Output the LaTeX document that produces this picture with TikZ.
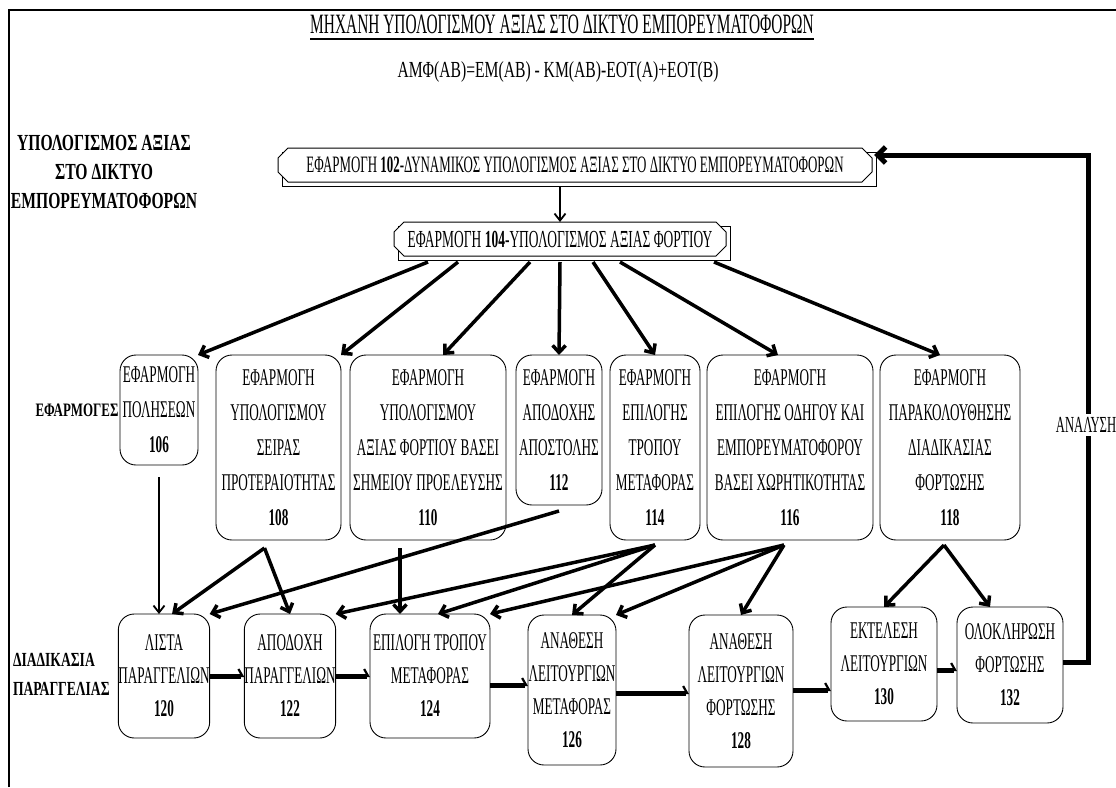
\documentclass[tikz,border=0pt]{standalone}
\usepackage{fontspec}
\setmainfont{Liberation Serif}[FakeStretch=0.55]
\newfontfamily\widefont{Liberation Serif}[FakeStretch=0.68]
\usetikzlibrary{arrows.meta,shapes.misc}
\begin{document}
\begin{tikzpicture}[x=1pt,y=-1pt,
  every node/.style={inner sep=0pt, outer sep=0pt},
  box/.style={draw, line width=0.9pt, rounded corners=16pt, align=center,
    font=\fontsize{24}{35}\selectfont},
  lowbox/.style={box, font=\fontsize{24}{33}\selectfont},
  topbox/.style={draw, line width=1pt, chamfered rectangle,
    chamfered rectangle xsep=5pt, chamfered rectangle ysep=5pt, fill=white},
  heading/.style={align=center},
  fan/.style={line width=3.5pt, -{Straight Barb[length=7pt,width=13pt]}},
  slim/.style={line width=1.8pt, -{Straight Barb[length=7pt,width=11pt]}},
  hk/.style={line width=5pt, -{Straight Barb[left,length=4pt,width=14pt,line width=2.2pt]}},
  loop/.style={line width=5pt, -{Straight Barb[length=8pt,width=16pt]}},
]
\useasboundingbox (0,0) rectangle (1116,787);

% frame (top and left edges)
\draw[line width=2pt] (9,787) -- (9,10) -- (1116,10);

% title and formula
\node[font=\fontsize{28}{30}\selectfont, anchor=base] (title) at (562,33)
  {ΜΗΧΑΝΗ ΥΠΟΛΟΓΙΣΜΟΥ ΑΞΙΑΣ ΣΤΟ ΔΙΚΤΥΟ ΕΜΠΟΡΕΥΜΑΤΟΦΟΡΩΝ};
\draw[line width=1.2pt] ([yshift=-6pt]title.base west) -- ([yshift=-6pt]title.base east);
\node[font=\widefont\fontsize{23}{25}\selectfont] (formula) at (558,72)
  {ΑΜΦ(ΑΒ)=ΕΜ(ΑΒ) - ΚΜ(ΑΒ)-ΕΟΤ(Α)+ΕΟΤ(Β)};

% row headings
\node[heading, font=\widefont\fontsize{23}{29}\selectfont\bfseries] (hdA) at (104,172)
  {ΥΠΟΛΟΓΙΣΜΟΣ ΑΞΙΑΣ\\ΣΤΟ ΔΙΚΤΥΟ\\ΕΜΠΟΡΕΥΜΑΤΟΦΟΡΩΝ};
\node[heading, font=\widefont\fontsize{19}{25}\selectfont\bfseries] (hdB) at (77,410) {ΕΦΑΡΜΟΓΕΣ};
\node[heading, align=left, anchor=west, font=\widefont\fontsize{20}{29}\selectfont\bfseries]
  (hdC) at (13,674) {ΔΙΑΔΙΚΑΣΙΑ\\ΠΑΡΑΓΓΕΛΙΑΣ};

% top-level applications
\node[topbox, minimum width=594pt, minimum height=34pt] (s102) at (579,169) {};
\node[topbox, minimum width=594pt, minimum height=34pt, font=\fontsize{23.5}{25}\selectfont]
  (n102) at (575,165)
  {ΕΦΑΡΜΟΓΗ \textbf{102}-ΔΥΝΑΜΙΚΟΣ ΥΠΟΛΟΓΙΣΜΟΣ ΑΞΙΑΣ ΣΤΟ ΔΙΚΤΥΟ ΕΜΠΟΡΕΥΜΑΤΟΦΟΡΩΝ};
\node[topbox, minimum width=332pt, minimum height=34pt] (s104) at (564,243) {};
\node[topbox, minimum width=332pt, minimum height=34pt, font=\fontsize{24.5}{25}\selectfont]
  (n104) at (560,239)
  {ΕΦΑΡΜΟΓΗ \textbf{104}-ΥΠΟΛΟΓΙΣΜΟΣ ΑΞΙΑΣ ΦΟΡΤΙΟΥ};

% applications
\node[box, minimum width=78pt,  minimum height=110pt] (m106) at (159,410)
  {ΕΦΑΡΜΟΓΗ\\ΠΟΛΗΣΕΩΝ\\\textbf{106}};
\node[box, minimum width=125pt, minimum height=185pt] (m108) at (278.5,447.5)
  {ΕΦΑΡΜΟΓΗ\\ΥΠΟΛΟΓΙΣΜΟΥ\\ΣΕΙΡΑΣ\\ΠΡΟΤΕΡΑΙΟΤΗΤΑΣ\\\textbf{108}};
\node[box, minimum width=156pt, minimum height=185pt] (m110) at (428,447.5)
  {ΕΦΑΡΜΟΓΗ\\ΥΠΟΛΟΓΙΣΜΟΥ\\ΑΞΙΑΣ ΦΟΡΤΙΟΥ ΒΑΣΕΙ\\ΣΗΜΕΙΟΥ ΠΡΟΕΛΕΥΣΗΣ\\\textbf{110}};
\node[box, minimum width=86pt,  minimum height=150pt] (m112) at (559,430)
  {ΕΦΑΡΜΟΓΗ\\ΑΠΟΔΟΧΗΣ\\ΑΠΟΣΤΟΛΗΣ\\\textbf{112}};
\node[box, minimum width=90pt,  minimum height=185pt] (m114) at (655,447.5)
  {ΕΦΑΡΜΟΓΗ\\ΕΠΙΛΟΓΗΣ\\ΤΡΟΠΟΥ\\ΜΕΤΑΦΟΡΑΣ\\\textbf{114}};
\node[box, minimum width=166pt, minimum height=185pt] (m116) at (790,447.5)
  {ΕΦΑΡΜΟΓΗ\\ΕΠΙΛΟΓΗΣ ΟΔΗΓΟΥ ΚΑΙ\\ΕΜΠΟΡΕΥΜΑΤΟΦΟΡΟΥ\\ΒΑΣΕΙ ΧΩΡΗΤΙΚΟΤΗΤΑΣ\\\textbf{116}};
\node[box, minimum width=140pt, minimum height=185pt] (m118) at (950,447.5)
  {ΕΦΑΡΜΟΓΗ\\ΠΑΡΑΚΟΛΟΥΘΗΣΗΣ\\ΔΙΑΔΙΚΑΣΙΑΣ\\ΦΟΡΤΩΣΗΣ\\\textbf{118}};

% order process
\node[lowbox, minimum width=88pt,  minimum height=124pt] (b120) at (164,676)
  {ΛΙΣΤΑ\\ΠΑΡΑΓΓΕΛΙΩΝ\\\textbf{120}};
\node[lowbox, minimum width=90pt,  minimum height=124pt] (b122) at (290,676)
  {ΑΠΟΔΟΧΗ\\ΠΑΡΑΓΓΕΛΙΩΝ\\\textbf{122}};
\node[lowbox, minimum width=120pt, minimum height=124pt] (b124) at (430,676)
  {ΕΠΙΛΟΓΗ ΤΡΟΠΟΥ\\ΜΕΤΑΦΟΡΑΣ\\\textbf{124}};
\node[lowbox, minimum width=88pt,  minimum height=150pt] (b126) at (572,690)
  {ΑΝΑΘΕΣΗ\\ΛΕΙΤΟΥΡΓΙΩΝ\\ΜΕΤΑΦΟΡΑΣ\\\textbf{126}};
\node[lowbox, minimum width=104pt, minimum height=152pt] (b128) at (741,691)
  {ΑΝΑΘΕΣΗ\\ΛΕΙΤΟΥΡΓΙΩΝ\\ΦΟΡΤΩΣΗΣ\\\textbf{128}};
\node[lowbox, minimum width=106pt, minimum height=114pt] (b130) at (884,664)
  {ΕΚΤΕΛΕΣΗ\\ΛΕΙΤΟΥΡΓΙΩΝ\\\textbf{130}};
\node[lowbox, minimum width=106pt, minimum height=116pt] (b132) at (1010,665)
  {ΟΛΟΚΛΗΡΩΣΗ\\ΦΟΡΤΩΣΗΣ\\\textbf{132}};

% 102 -> 104
\draw[slim] (n104.north |- s102.south) -- (n104.north);

% 104 fans out to the applications
\draw[fan] ([yshift=-6pt]n104.south -| 428,0) -- (m106.north east);
\draw[fan] ([yshift=-6pt]n104.south -| 458,0) -- (m108.north east);
\draw[fan] ([yshift=-6pt]n104.south -| 530,0) -- ([xshift=15pt]m110.north);
\draw[fan] ([yshift=-6pt]n104.south -| 560,0) -- (m112.north);
\draw[fan] ([yshift=-6pt]n104.south -| 593,0) -- (m114.north);
\draw[fan] ([yshift=-6pt]n104.south -| 620,0) -- ([xshift=-12pt]m116.north);
\draw[fan] ([yshift=-6pt]n104.south -| 714,0) -- ([xshift=-10pt]m118.north);

% applications feed the order process
\draw[slim] ([yshift=-12pt]m106.south) -- (b120.north -| m106.south);
\coordinate (a108) at ([xshift=-14pt,yshift=-8pt]m108.south);
\draw[fan] (a108) -- ([xshift=8pt]b120.north);
\draw[fan] (a108) -- (b122.north);
\coordinate (a110) at ([xshift=-28pt,yshift=-8pt]m110.south);
\draw[fan] (a110) -- (b124.north -| a110);
\coordinate (a112) at ([yshift=-6pt]m112.south);
\draw[fan] (a112) -- (b120.north east);
\coordinate (a114) at ([yshift=-5pt]m114.south);
\draw[fan] (a114) -- (b122.north east);
\draw[fan] (a114) -- ([xshift=8pt]b124.north);
\draw[fan] (a114) -- (b126.north);
\coordinate (a116) at ([xshift=-6pt,yshift=-5pt]m116.south);
\draw[fan] (a116) -- (b124.north east);
\draw[fan] (a116) -- (b126.north east);
\draw[fan] (a116) -- (b128.north);
\coordinate (a118) at ([xshift=-6pt,yshift=-5pt]m118.south);
\draw[fan] (a118) -- (b130.north);
\draw[fan] (a118) -- ([xshift=-20pt]b132.north);

% order process chain
\draw[hk] (b120.east |- 0,676) -- (b122.west |- 0,676);
\draw[hk] (b122.east |- 0,676) -- (b124.west |- 0,676);
\draw[hk] (b124.east |- 0,685) -- (b126.west |- 0,685);
\draw[hk] (b126.east |- 0,693) -- (b128.west |- 0,693);
\draw[hk] (b128.east |- 0,690) -- (b130.west |- 0,690);
\draw[hk] (b130.east |- 0,670) -- (b132.west |- 0,670);

% analysis feedback loop
\coordinate (fbA) at (1088,662);
\coordinate (fbB) at (1088,155);
\draw[loop] (b132.east |- fbA) -- (fbA) -- (fbB) -- ([xshift=2pt]n102.east |- fbB);
\node[fill=white, inner sep=3pt, font=\fontsize{23}{25}\selectfont] (analysis) at (1086,425) {ΑΝΑΛΥΣΗ};
\end{tikzpicture}
\end{document}
